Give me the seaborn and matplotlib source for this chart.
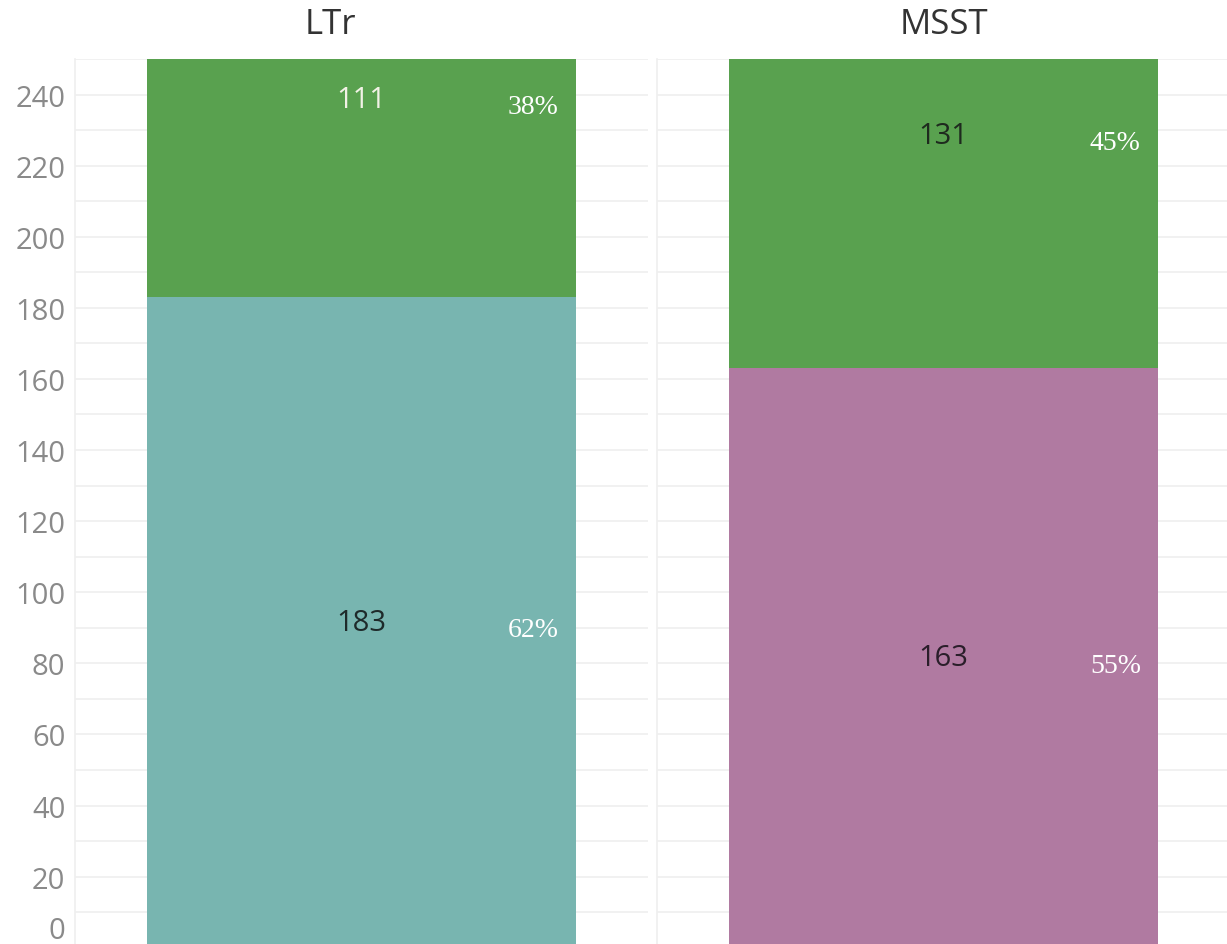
import matplotlib
matplotlib.use("Agg")
import matplotlib.pyplot as plt
import matplotlib.transforms as mtransforms
import seaborn as sns
import numpy as np
from matplotlib.ticker import MultipleLocator

# data
groups = ["LTr", "MSST"]
bottom_counts = [183, 163]
top_counts = [111, 131]
bottom_colors = ["#78B5B0", "#B07AA1"]
top_color = "#59A14F"
bottom_label_colors = ["#1E2A2A", "#2A1E2A"]
top_label_colors = ["#F2F2E6", "#1E2A1E"]
y_ticks = list(range(0, 241, 20))

sns.set_theme(style="white")
plt.rcParams["font.family"] = ["Open Sans", "DejaVu Sans"]
narrow = ["Liberation Sans Narrow", "Open Sans", "DejaVu Sans"]

fig = plt.figure(figsize=(12.27, 9.45), dpi=100)
W, H = 1227, 945
# panel rects in pixels -> figure fractions
panel_left = [75, 657]
panel_w = 573
title_x = [0.445, 0.501]  # title position inside each panel (axes fraction)
grid_col = "#EFEFEF"

for i, name in enumerate(groups):
    ax = fig.add_axes([panel_left[i] / W, (H - 948.7) / H, panel_w / W, 888.7 / H])
    total = bottom_counts[i] + top_counts[i]
    # stacked bar: full height in green, bottom part drawn over it
    sns.barplot(x=[name], y=[total], color=top_color, width=0.75, saturation=1,
                linewidth=0, ax=ax, zorder=3)
    sns.barplot(x=[name], y=[bottom_counts[i]], color=bottom_colors[i], width=0.75,
                saturation=1, linewidth=0, ax=ax, zorder=4)
    ax.set_xlim(-0.5, 0.5)
    ax.set_ylim(0, 250)
    ax.set_xlabel("")
    ax.set_ylabel("")
    ax.set_xticks([])

    ax.yaxis.set_major_locator(MultipleLocator(20))
    ax.yaxis.set_minor_locator(MultipleLocator(10))
    ax.grid(True, which="both", axis="y", color=grid_col, linewidth=1.2, zorder=0)
    ax.tick_params(axis="y", which="major", length=0, pad=7, labelsize=21, labelcolor="#8A8A8A")
    ax.tick_params(axis="y", which="minor", length=7, color=grid_col, width=1.2)
    for s in ["top", "right", "bottom"]:
        ax.spines[s].set_visible(False)
    ax.spines["left"].set_color(grid_col)
    ax.spines["left"].set_linewidth(1.2)

    if i == 0:
        ax.set_yticks(y_ticks)
        ax.set_yticklabels([str(t) for t in y_ticks], family=narrow)
        # the 0 label sits just above the cut-off bottom edge
        zero = ax.get_yticklabels()[0]
        zero.set_transform(zero.get_transform() +
                           mtransforms.ScaledTranslation(0, 21 / 100, fig.dpi_scale_trans))
    else:
        ax.set_yticklabels([])
        ax.tick_params(axis="y", which="major", pad=0)

    ax.text(title_x[i], 1.0 + 35 / 888.7, name, transform=ax.transAxes, ha="center", va="center",
            fontsize=25, color="#333333")

    # labels: counts centered, percentages near the right edge of the bar
    seg_bottoms = [0, bottom_counts[i]]
    seg_vals = [bottom_counts[i], top_counts[i]]
    lab_cols = [bottom_label_colors[i], top_label_colors[i]]
    for b, v, c in zip(seg_bottoms, seg_vals, lab_cols):
        mid = b + v / 2
        ax.text(0, mid, str(v), ha="center", va="center", fontsize=21, color=c,
                family=narrow, zorder=6)
        pct = round(100 * v / total)
        ax.text(0.30, mid - 2, f"{pct}%", ha="center", va="center", fontsize=20,
                color="white", family="Liberation Serif", zorder=6)

fig.savefig("out.png", dpi=100)
